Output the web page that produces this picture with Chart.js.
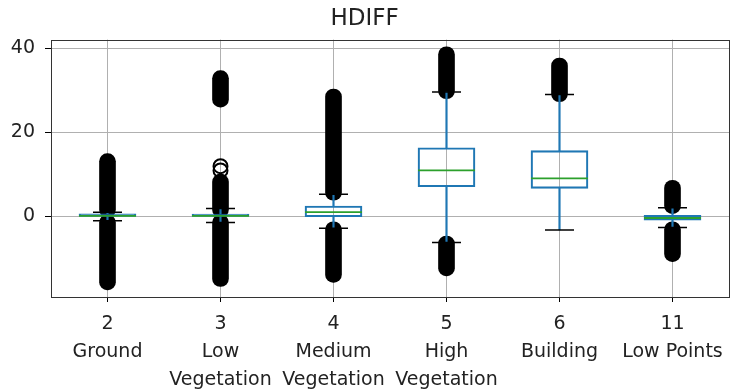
<!DOCTYPE html>
<html>
<head>
<meta charset="utf-8">
<script src="https://cdn.jsdelivr.net/npm/chart.js@4"></script>
<style>
  body { margin: 0; background: #fff; }
  #wrap { width: 736px; height: 391px; }
</style>
</head>
<body>
<div id="wrap"><canvas id="hdiffChart"></canvas></div>
<script>
// class codes and names (x axis)
const classCodes = ["2", "3", "4", "5", "6", "11"];
const classNames = [["Ground"], ["Low", "Vegetation"], ["Medium", "Vegetation"], ["High", "Vegetation"], ["Building"], ["Low Points"]];

// box statistics per class
const q1 = [-0.05, -0.05, -0.15, 7.0, 6.6, -1.0];
const medians = [0.05, 0.05, 0.95, 10.9, 9.0, -0.45];
const q3 = [0.55, 0.5, 2.4, 16.3, 15.6, 0.2];
const whiskerLow = [-1.1, -1.5, -2.9, -6.3, -3.3, -2.7];
const whiskerHigh = [0.9, 1.8, 5.2, 29.6, 29.0, 2.0];

// outliers: the dense runs of points, as ranges
const flierLowRange = [[-17.6, 0.3], [-16.8, 0.3], [-15.8, -1.35], [-14.25, -4.75], null, [-10.85, -1.35]];
const flierHighRange = [[-0.3, 14.9], [-0.3, 10.0], [3.8, 30.3], [28.0, 40.4], [27.3, 37.7], [0.6, 8.55]];
const flierHighRange2 = [null, [26.0, 34.7], null, null, null, null];
// single outliers that stand apart
const flierSingleA = [null, 10.9, null, null, null, null];
const flierSingleB = [null, 11.9, null, null, null, null];

const yTicks = [0, 20, 40];

const BLUE = "#1f77b4";
const GREEN = "#2ca02c";
const FONT = "DejaVu Sans";

const labels = classCodes.map((c, i) => [c].concat(classNames[i]));

// frame round the plot area, like the matplotlib spines
const framePlugin = {
  id: "frame",
  afterDraw(chart) {
    const a = chart.chartArea;
    const ctx = chart.ctx;
    ctx.save();
    ctx.strokeStyle = "#333";
    ctx.lineWidth = 1;
    ctx.strokeRect(Math.round(a.left) + 0.5, Math.round(a.top) + 0.5, Math.round(a.right - a.left), Math.round(a.bottom - a.top));
    ctx.restore();
  }
};

const flierBar = (data) => ({
  type: "bar",
  data: data,
  grouped: false,
  barThickness: 16,
  backgroundColor: "#000",
  borderWidth: 0,
  borderSkipped: false,
  borderRadius: 8,
  order: 5
});

const whiskerLowData = whiskerLow.map((w, i) => [w, q1[i]]);
const whiskerHighData = whiskerHigh.map((w, i) => [q3[i], w]);
const boxData = q1.map((v, i) => [v, q3[i]]);

new Chart(document.getElementById("hdiffChart"), {
  type: "bar",
  data: {
    labels: labels,
    datasets: [
      flierBar(flierLowRange),
      flierBar(flierHighRange),
      flierBar(flierHighRange2),
      {
        type: "line", data: flierSingleA, showLine: false, order: 4,
        pointStyle: "circle", pointRadius: 7, pointBorderWidth: 2,
        pointBorderColor: "#000", pointBackgroundColor: "rgba(0,0,0,0)"
      },
      {
        type: "line", data: flierSingleB, showLine: false, order: 4,
        pointStyle: "circle", pointRadius: 7, pointBorderWidth: 2,
        pointBorderColor: "#000", pointBackgroundColor: "rgba(0,0,0,0)"
      },
      {
        type: "bar", data: whiskerLowData, grouped: false, barThickness: 1.5,
        backgroundColor: BLUE, borderWidth: 0, order: 3
      },
      {
        type: "bar", data: whiskerHighData, grouped: false, barThickness: 1.5,
        backgroundColor: BLUE, borderWidth: 0, order: 3
      },
      {
        type: "line", data: whiskerLow, showLine: false, order: 2,
        pointStyle: "line", pointRadius: 14.5, pointBorderWidth: 1.5, pointBorderColor: "#000"
      },
      {
        type: "line", data: whiskerHigh, showLine: false, order: 2,
        pointStyle: "line", pointRadius: 14.5, pointBorderWidth: 1.5, pointBorderColor: "#000"
      },
      {
        type: "bar", data: boxData, grouped: false, barThickness: 57,
        backgroundColor: "rgba(0,0,0,0)", borderColor: BLUE, borderWidth: 1.5,
        borderSkipped: false, order: 1
      },
      {
        type: "line", data: medians, showLine: false, order: 0,
        pointStyle: "line", pointRadius: 28.5, pointBorderWidth: 1.8, pointBorderColor: GREEN
      }
    ]
  },
  options: {
    responsive: true,
    maintainAspectRatio: false,
    animation: false,
    layout: { autoPadding: false, padding: { left: 0, right: 7, top: 0, bottom: 0 } },
    plugins: {
      legend: { display: false },
      tooltip: { enabled: false },
      title: {
        display: true,
        text: "HDIFF",
        color: "#222",
        font: { family: FONT, size: 23, weight: "normal" },
        padding: { top: 5, bottom: 7 }
      }
    },
    scales: {
      x: {
        offset: true,
        border: { display: false },
        grid: { offset: false, color: "#b0b0b0", lineWidth: 1, tickColor: "#000", tickLength: 5 },
        ticks: {
          color: "#222", padding: 8, maxRotation: 0, autoSkip: false,
          font: { family: FONT, size: 19, lineHeight: 1.47 }
        },
        afterFit: (scale) => { scale.height = 94; }
      },
      y: {
        min: -19.3,
        max: 42.1,
        border: { display: false },
        grid: { color: "#b0b0b0", lineWidth: 1, tickColor: "#000", tickLength: 6 },
        ticks: { color: "#222", padding: 10, font: { family: FONT, size: 19 } },
        afterBuildTicks: (scale) => { scale.ticks = yTicks.map(v => ({ value: v })); },
        afterFit: (scale) => { scale.width = 51; }
      }
    }
  },
  plugins: [framePlugin]
});
</script>
</body>
</html>
